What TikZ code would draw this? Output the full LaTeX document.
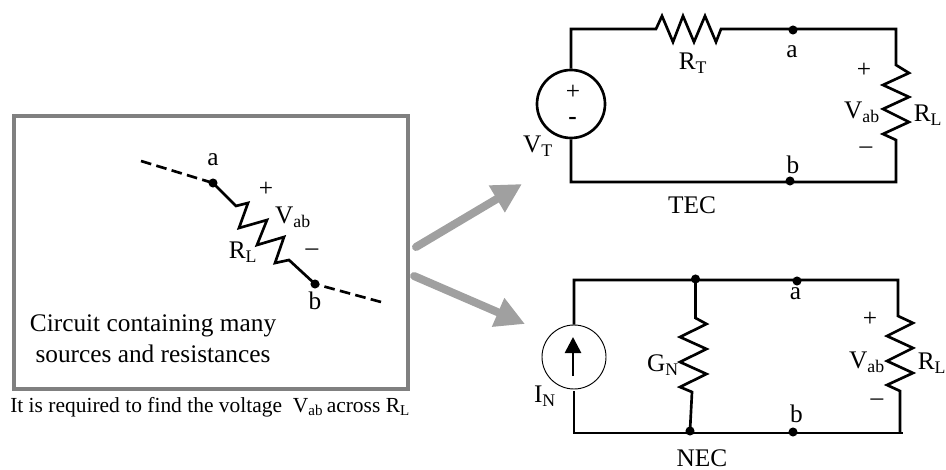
\documentclass[tikz,border=0pt]{standalone}
\usepackage{fontspec}
\setmainfont{Liberation Serif}
\usetikzlibrary{arrows.meta}
\definecolor{boxgray}{HTML}{808080}
\definecolor{arrowgray}{HTML}{A0A0A0}
\tikzset{wire/.style={line width=2pt, line join=miter}}
\tikzset{dashwire/.style={line width=2pt, dash pattern=on 8pt off 4pt}}
\tikzset{dot/.style={circle, fill=black, inner sep=0pt, minimum size=6.8pt}}
\tikzset{lbl/.style={font=\fontsize{19}{22}\selectfont, inner sep=0pt}}
\tikzset{biglbl/.style={font=\fontsize{19}{23.2}\selectfont, inner sep=0pt, align=center}}
\tikzset{note/.style={font=\fontsize{16.1}{19}\selectfont, inner sep=0pt, anchor=west}}
\tikzset{thevenin/.style={draw=arrowgray, line width=6pt, line cap=round, -{Triangle[length=22pt, width=22pt]}}}
\newcommand{\Vab}{V\textsubscript{ab}}
\newcommand{\RL}{R\textsubscript{L}}
\begin{document}
\begin{tikzpicture}[x=0.75pt, y=-0.75pt]
    \useasboundingbox (0, 0) rectangle (946, 470);
    % left box
    \node[draw=boxgray, line width=3.2pt, minimum width=296pt, minimum height=204.5pt, inner sep=0pt] (box) at (211, 252.5) {};
    \node[dot] (loada) at (213, 183) {};
    \node[dot] (loadb) at (315, 284) {};
    \coordinate (dasha) at (141, 161);
    \coordinate (dashb) at (381, 302);
    \draw[dashwire] (dasha) -- (loada.center);
    \draw[dashwire] (dashb) -- (loadb.center);
    \draw[wire] (loada.center) -- (236, 206) -- (248, 203) -- (239, 228) -- (267, 220) -- (257, 245) -- (284, 237) -- (275, 263) -- (289, 260) -- (loadb.center);
    \node[lbl] (labela) at (213, 160) {a};
    \node[lbl] (labelplus) at (266, 189) {+};
    \node[lbl] (labelv) at (293, 217) {\Vab};
    \node[lbl] (labelr) at (243, 252) {\RL};
    \node[lbl] (labelminus) at (312, 252) {--};
    \node[lbl] (labelb) at (315, 301) {b};
    \node[biglbl] (circuit) at (153, 338.5) {Circuit containing many\\sources and resistances};
    \node[note] (caption) at (10, 407) {It is required to find the voltage~ \Vab\,across \RL};
    % arrows
    \coordinate (uptail) at (416, 247);
    \coordinate (uptip) at (522, 184);
    \coordinate (downtail) at (414, 276);
    \coordinate (downtip) at (525, 324);
    \draw[thevenin] (uptail) -- (uptip);
    \draw[thevenin] (downtail) -- (downtip);
    % TEC
    \node[draw, circle, line width=2pt, minimum size=51pt, inner sep=0pt] (vt) at (571, 104) {};
    \coordinate (tl) at (571, 29);
    \coordinate (tr) at (896, 29);
    \coordinate (bl) at (571, 182);
    \coordinate (br) at (896, 182);
    \node[dot] (teca) at (793, 30) {};
    \node[dot] (tecb) at (790, 181) {};
    \draw[wire] (vt) -- (tl) -- (656, 29) -- (662, 16) -- (673, 42) -- (683, 16) -- (694, 42) -- (705, 16) -- (716, 42) -- (721, 29) -- (tr) -- (896, 65) -- (909, 73) -- (883, 85) -- (909, 97) -- (883, 109) -- (909, 122) -- (883, 134) -- (896, 140) -- (br) -- (bl) -- (vt);
    \node[lbl] (vtplus) at (573, 92) {+};
    \node[lbl] (vtminus) at (572.5, 121) {\textbf{-}};
    \node[lbl] (vtname) at (538, 146) {V\textsubscript{T}};
    \node[lbl] (rtname) at (693, 63) {R\textsubscript{T}};
    \node[lbl] (tecalabel) at (792, 52) {a};
    \node[lbl] (tecblabel) at (793, 165) {b};
    \node[lbl] (tecplus) at (864, 70) {+};
    \node[lbl] (tecminus) at (866, 150) {--};
    \node[lbl] (tecv) at (862, 112) {\Vab};
    \node[lbl] (tecr) at (928, 115) {\RL};
    \node[lbl] (tecname) at (692, 205) {TEC};
    % NEC
    \node[draw, circle, line width=0.7pt, minimum size=48pt, inner sep=0pt] (in) at (574, 357) {};
    \coordinate (ntl) at (574, 280);
    \coordinate (nbl) at (574, 433);
    \coordinate (ntr) at (898, 280);
    \coordinate (nbr) at (903, 433);
    \coordinate (ngap) at (574, 391);
    \node[dot] (gtop) at (695.5, 279) {};
    \node[dot] (gbot) at (690, 431) {};
    \node[dot] (neca) at (797, 281) {};
    \node[dot] (necb) at (793, 432) {};
    \draw[wire] (in) -- (ntl) -- (ntr) -- (898, 316) -- (913, 323) -- (887, 336) -- (913, 348) -- (887, 361) -- (913, 373) -- (887, 385) -- (900, 391) -- (900, 433);
    \draw[wire] (ngap) -- (nbl) -- (nbr);
    \draw[wire] (gtop.center) -- (695.5, 318) -- (706.5, 324) -- (680, 337) -- (706.5, 349) -- (680, 362) -- (706.5, 374) -- (680, 387) -- (692, 392) -- (gbot.center);
    \coordinate (arrowtail) at (573, 376);
    \coordinate (arrowtip) at (573, 337);
    \draw[line width=2pt, -{Triangle[length=12pt, width=12pt]}] (arrowtail) -- (arrowtip);
    \node[lbl] (nameg) at (663, 365) {G\textsubscript{N}};
    \node[lbl] (namei) at (545, 396) {I\textsubscript{N}};
    \node[lbl] (necalabel) at (795.5, 294) {a};
    \node[lbl] (necblabel) at (796.5, 414) {b};
    \node[lbl] (necplus) at (870, 319) {+};
    \node[lbl] (necminus) at (877, 402) {--};
    \node[lbl] (necv) at (867, 362) {\Vab};
    \node[lbl] (necr) at (932, 363) {\RL};
    \node[lbl] (necname) at (702, 458) {NEC};
\end{tikzpicture}
\end{document}
